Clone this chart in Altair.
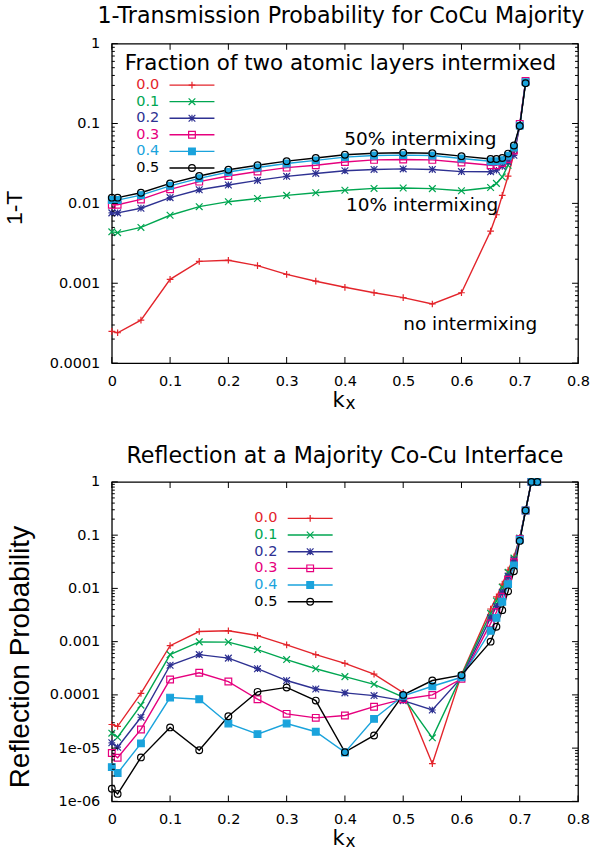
import altair as alt
import pandas as pd

FONT = "DejaVu Sans"
TFONT = "Liberation Sans"

SERIES = ["0.0", "0.1", "0.2", "0.3", "0.4", "0.5"]
COLORS = ["#e3242b", "#00a651", "#2e3192", "#e6007e", "#1aa3dc", "#000000"]
SHAPES = ["M-1,0L1,0M0,-1L0,1",
          "M-1,-1L1,1M-1,1L1,-1",
          "M-1,0L1,0M0,-1L0,1M-1,-1L1,1M-1,1L1,-1",
          "square", "square", "circle"]
FILLS = ["transparent", "transparent", "transparent", "transparent", "#1aa3dc", "transparent"]

# ---------------- top panel: 1-T ----------------
KX_TOP = [0, 0.01, 0.05, 0.1, 0.15, 0.2, 0.25, 0.3, 0.35, 0.4, 0.45, 0.5, 0.55, 0.6,
          0.65, 0.66, 0.67, 0.68, 0.69, 0.70, 0.71]
T_00 = [2.5e-4, 2.4e-4, 3.45e-4, 1.12e-3, 1.88e-3, 1.94e-3, 1.66e-3, 1.29e-3, 1.06e-3, 8.9e-4,
        7.6e-4, 6.6e-4, 5.5e-4, 7.6e-4, 4.5e-3, 7.2e-3, 0.0126, 0.022, 0.042, 0.094, 0.33]
T_01 = [0.0044, 0.0043, 0.005, 0.0071, 0.0091, 0.0105, 0.0115, 0.0126, 0.0136, 0.0146,
        0.0154, 0.0156, 0.0153, 0.0144, 0.0158, 0.0178, 0.0214, 0.030, 0.048, 0.095, 0.33]
T_02 = [0.0076, 0.0076, 0.0087, 0.0118, 0.0148, 0.017, 0.0194, 0.0218, 0.0237, 0.0256,
        0.0266, 0.027, 0.0266, 0.025, 0.0249, 0.026, 0.029, 0.033, 0.040, 0.094, 0.33]
T_03 = [0.0096, 0.0096, 0.0112, 0.015, 0.0187, 0.022, 0.025, 0.028, 0.030, 0.033,
        0.035, 0.0355, 0.035, 0.0325, 0.030, 0.030, 0.032, 0.036, 0.046, 0.099, 0.34]
T_04 = [0.0110, 0.0110, 0.0127, 0.0166, 0.0206, 0.0247, 0.0281, 0.0316, 0.0346, 0.0380,
        0.0398, 0.0402, 0.0398, 0.0365, 0.0337, 0.0337, 0.0347, 0.0395, 0.050, 0.094, 0.33]
T_05 = [0.0118, 0.0118, 0.0136, 0.0178, 0.022, 0.0264, 0.030, 0.0338, 0.037, 0.0406,
        0.0425, 0.043, 0.0425, 0.039, 0.036, 0.036, 0.037, 0.042, 0.053, 0.093, 0.32]

# ---------------- bottom panel: reflection ----------------
KX_BOT = [0, 0.01, 0.05, 0.1, 0.15, 0.2, 0.25, 0.3, 0.35, 0.4, 0.45, 0.5, 0.55, 0.6,
          0.65, 0.66, 0.67, 0.68, 0.69, 0.70, 0.71, 0.72, 0.73]
R_00 = [2.78e-5, 2.57e-5, 1.07e-4, 8.4e-4, 1.55e-3, 1.6e-3, 1.3e-3, 8.7e-4, 5.7e-4, 3.9e-4,
        2.45e-4, 1.1e-4, 5.1e-6, 2.4e-4, 4.1e-3, 6.9e-3, 0.012, 0.022, 0.039, 0.09, 0.29, 1.0, 1.0]
R_01 = [1.91e-5, 1.6e-5, 6.4e-5, 5.7e-4, 9.9e-4, 9.8e-4, 7.1e-4, 4.6e-4, 3.1e-4, 2.2e-4,
        1.58e-4, 9.1e-5, 1.56e-5, 2.3e-4, 3.4e-3, 5.8e-3, 0.0105, 0.020, 0.037, 0.088, 0.29, 1.0, 1.0]
R_02 = [1.26e-5, 1.04e-5, 3.8e-5, 3.6e-4, 5.7e-4, 4.9e-4, 3.1e-4, 1.86e-4, 1.29e-4, 1.09e-4,
        9.7e-5, 7.8e-5, 5.2e-5, 2.1e-4, 2.8e-3, 4.6e-3, 8.5e-3, 0.017, 0.034, 0.086, 0.29, 1.0, 1.0]
R_03 = [8.1e-6, 6.6e-6, 2.24e-5, 1.95e-4, 2.6e-4, 1.78e-4, 8.3e-5, 4.4e-5, 3.7e-5, 4.1e-5,
        6.0e-5, 8.3e-5, 1.0e-4, 2.0e-4, 2.2e-3, 3.6e-3, 7.0e-3, 0.0145, 0.031, 0.085, 0.29, 1.0, 1.0]
R_04 = [4.4e-6, 3.4e-6, 1.23e-5, 8.9e-5, 8.3e-5, 2.9e-5, 1.83e-5, 2.9e-5, 2.03e-5, 8.3e-6,
        3.55e-5, 9.6e-5, 1.45e-4, 2.14e-4, 1.6e-3, 2.8e-3, 5.6e-3, 0.012, 0.027, 0.082, 0.29, 1.0, 1.0]
R_05 = [1.73e-6, 1.38e-6, 6.7e-6, 2.45e-5, 9.1e-6, 3.98e-5, 1.14e-4, 1.38e-4, 7.8e-5, 8.4e-6,
        1.73e-5, 1.0e-4, 1.86e-4, 2.34e-4, 1.0e-3, 1.9e-3, 3.9e-3, 8.8e-3, 0.021, 0.078, 0.29, 1.0, 1.0]

# ---------------- axes ----------------
X_TICKS = [0, 0.1, 0.2, 0.3, 0.4, 0.5, 0.6, 0.7, 0.8]
X_LABELS = ["0", "0.1", "0.2", "0.3", "0.4", "0.5", "0.6", "0.7", "0.8"]
Y_TICKS_TOP = [1e-4, 1e-3, 1e-2, 1e-1, 1]
Y_LABELS_TOP = ["0.0001", "0.001", "0.01", "0.1", "1"]
Y_TICKS_BOT = [1e-6, 1e-5, 1e-4, 1e-3, 1e-2, 1e-1, 1]
Y_LABELS_BOT = ["1e-06", "1e-05", "0.0001", "0.001", "0.01", "0.1", "1"]
MINOR_MULT = [2, 3, 4, 5, 6, 7, 8, 9]

ANN_TEXT = ["50% intermixing", "10% intermixing", "no intermixing"]
ANN_X = [0.399, 0.402, 0.500]
ANN_Y = [0.0531, 0.00801, 2.585e-4]

W, H = 467, 320


def label_expr(vals, labels, log=True):
    expr = "'" + labels[-1] + "'"
    for i in range(len(vals) - 2, -1, -1):
        if log:
            t = (vals[i] * vals[i + 1]) ** 0.5
        else:
            t = (vals[i] + vals[i + 1]) / 2
        expr = f"datum.value < {t!r} ? '{labels[i]}' : ({expr})"
    return expr


def long_df(kx, cols):
    rows = []
    for s, vals in zip(SERIES, cols):
        for k, v in zip(kx, vals):
            rows.append({"kx": k, "val": v, "series": s})
    return pd.DataFrame(rows)


def panel(df, y_ticks, y_labels, title, title_offset, title_dx, ytitle, ytitle_size,
          ytitle_x, ytitle_y, leg, annotations=None, legend_title=None):
    xs = alt.Scale(domain=[0, 0.8], nice=False, zero=False)
    ys = alt.Scale(type="log", domain=[y_ticks[0], y_ticks[-1]], nice=False)
    xaxis = alt.Axis(values=X_TICKS, labelExpr=label_expr(X_TICKS, X_LABELS, log=False),
                     ticks=False, tickSize=0, domain=False, grid=False, labelPadding=11,
                     labelFontSize=14.5, labelFont=FONT, labelColor="black", title=None,
                     labelFlush=False, labelOverlap=False)
    yaxis = alt.Axis(values=y_ticks, labelExpr=label_expr(y_ticks, y_labels),
                     ticks=False, tickSize=0, domain=False, grid=False, labelPadding=12,
                     labelFontSize=14.5, labelFont=FONT, labelColor="black",
                     labelOverlap=False, title=ytitle, titleFont=TFONT,
                     titleFontSize=ytitle_size, titleFontWeight="normal", titleColor="black",
                     titleX=ytitle_x, titleY=ytitle_y)
    X = lambda f: alt.X(f, scale=xs, axis=xaxis)
    Y = lambda f: alt.Y(f, scale=ys, axis=yaxis)
    cscale = alt.Scale(domain=SERIES, range=COLORS)
    base = alt.Chart(df)
    lines = base.mark_line(strokeWidth=1.4).encode(
        x=X("kx:Q"), y=Y("val:Q"),
        color=alt.Color("series:N", scale=cscale, legend=None),
    )
    pts = base.mark_point(size=45, strokeWidth=1.2, opacity=1).encode(
        x=X("kx:Q"), y=Y("val:Q"),
        shape=alt.Shape("series:N", scale=alt.Scale(domain=SERIES, range=SHAPES), legend=None),
        stroke=alt.Stroke("series:N", scale=cscale, legend=None),
        fill=alt.Fill("series:N", scale=alt.Scale(domain=SERIES, range=FILLS), legend=None),
    )
    layers = [lines, pts]

    # inward ticks (gnuplot style) on all four sides
    ymaj = pd.DataFrame({"v": y_ticks})
    ymin = pd.DataFrame({"v": [m * t for t in y_ticks[:-1] for m in MINOR_MULT]})
    xmaj = pd.DataFrame({"v": X_TICKS})
    for d, sz in ((ymaj, 6), (ymin, 3)):
        for xpos in (sz / 2, W - sz / 2):
            layers.append(alt.Chart(d).mark_tick(orient="horizontal", size=sz, thickness=1,
                                                 color="black", opacity=1).encode(
                y=Y("v:Q"), x=alt.value(xpos)))
    for ypos in (3, H - 3):
        layers.append(alt.Chart(xmaj).mark_tick(orient="vertical", size=6, thickness=1,
                                                color="black", opacity=1).encode(
            x=X("v:Q"), y=alt.value(ypos)))

    # legend drawn inside the plot
    one = pd.DataFrame({"n": [0]})
    for i, s in enumerate(SERIES):
        yrow = leg["y0"] + leg["dy"] * i
        layers.append(alt.Chart(one).mark_text(text=s, align="left", baseline="middle",
                                               font=FONT, fontSize=14.5, color=COLORS[i]).encode(
            x=alt.value(leg["lx"]), y=alt.value(yrow)))
        layers.append(alt.Chart(one).mark_rule(color=COLORS[i], strokeWidth=1.4).encode(
            x=alt.value(leg["x1"]), x2=alt.value(leg["x2"]), y=alt.value(yrow)))
        layers.append(alt.Chart(one).mark_point(shape=SHAPES[i], size=45, strokeWidth=1.2,
                                                stroke=COLORS[i], fill=FILLS[i], opacity=1).encode(
            x=alt.value(leg["mx"]), y=alt.value(yrow)))
    if legend_title:
        layers.append(alt.Chart(one).mark_text(text=legend_title, align="center",
                                               baseline="alphabetic", font=FONT, fontSize=21.4,
                                               color="black").encode(
            x=alt.value(229), y=alt.value(26.5)))
    if annotations is not None:
        layers.append(alt.Chart(annotations).mark_text(align="left", baseline="alphabetic",
                                                       font=FONT, fontSize=18.5,
                                                       color="black").encode(
            x=X("ax:Q"), y=Y("ay:Q"), text="atext:N"))
    # x-axis title k with subscript x
    layers.append(alt.Chart(one).mark_text(text="k", align="left", baseline="alphabetic",
                                           font=FONT, fontSize=21, color="black").encode(
        x=alt.value(221), y=alt.value(H + 44)))
    layers.append(alt.Chart(one).mark_text(text="x", align="left", baseline="alphabetic",
                                           font=FONT, fontSize=17, color="black").encode(
        x=alt.value(234), y=alt.value(H + 46)))

    return alt.layer(*layers).properties(
        width=W, height=H,
        title=alt.TitleParams(text=title, font=FONT, fontSize=22.2, fontWeight="normal",
                              color="black", anchor="middle", frame="group",
                              baseline="alphabetic", offset=title_offset, dx=title_dx),
    )


ann = pd.DataFrame({"atext": ANN_TEXT, "ax": ANN_X, "ay": ANN_Y})

top = panel(long_df(KX_TOP, [T_00, T_01, T_02, T_03, T_04, T_05]),
            Y_TICKS_TOP, Y_LABELS_TOP,
            "1-Transmission Probability for CoCu Majority", -10, -4, "1-T", 23, -85, 164,
            dict(lx=24.5, x1=57.8, x2=102.8, mx=80.3, y0=41.5, dy=16.6),
            annotations=ann, legend_title="Fraction of two atomic layers intermixed")

bot = panel(long_df(KX_BOT, [R_00, R_01, R_02, R_03, R_04, R_05]),
            Y_TICKS_BOT, Y_LABELS_BOT,
            "Reflection at a Majority Co-Cu Interface", -11, 0, "Reflection Probability", 28,
            -77, 175,
            dict(lx=142.8, x1=176.2, x2=221.2, mx=198.7, y0=36.5, dy=16.7))

chart = alt.vconcat(top, bot, spacing=31).properties(
    padding={"left": 3, "top": 4, "right": 0, "bottom": 0},
    background="white",
).configure_view(stroke="black", strokeWidth=1.3)

chart.save("out.html", embed_options={"renderer": "svg", "actions": False})
